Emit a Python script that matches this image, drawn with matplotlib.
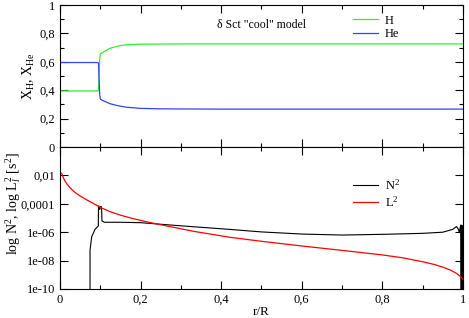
import numpy as np
import matplotlib
matplotlib.use("Agg")
import matplotlib.pyplot as plt
from matplotlib.ticker import MultipleLocator, FixedLocator, FixedFormatter, FuncFormatter

plt.rcParams['font.family'] = 'Liberation Serif'
plt.rcParams['mathtext.fontset'] = 'custom'
plt.rcParams['mathtext.rm'] = 'Liberation Serif'
plt.rcParams['mathtext.it'] = 'Liberation Serif:italic'

# abundance profiles
r_xh = [0.0, 0.094, 0.0955, 0.097, 0.0985, 0.100, 0.104, 0.124, 0.145, 0.165, 0.2, 0.25, 0.3, 0.4, 0.6, 0.8, 1.0]
x_h = [0.395, 0.395, 0.40, 0.52, 0.62, 0.655, 0.664, 0.695, 0.712, 0.72, 0.724, 0.725, 0.726, 0.726, 0.726, 0.726, 0.726]
x_he = [0.595, 0.595, 0.59, 0.47, 0.37, 0.338, 0.33, 0.305, 0.29, 0.28, 0.272, 0.269, 0.268, 0.267, 0.267, 0.267, 0.267]

# log10 of N^2
r_n2 = [0.0744, 0.0745, 0.0786, 0.0868, 0.095, 0.0955, 0.0962, 0.0985, 0.1005, 0.1025, 0.1035, 0.104, 0.11,
        0.15, 0.2, 0.3, 0.42, 0.5, 0.6, 0.7, 0.8, 0.9, 0.95, 0.975, 0.984, 0.988, 0.991, 0.9945,
        0.995, 0.9968, 0.9972, 0.9988, 0.9993, 1.0]
log_n2 = [-12, -7.25, -6.32, -5.8, -5.56, -4.15, -4.15, -4.4, -4.2, -4.2, -4.6, -5.2, -5.3,
          -5.3, -5.33, -5.55, -5.8, -5.98, -6.13, -6.2, -6.15, -6.08, -6.0, -5.8, -5.6, -5.75, -6.0, -5.5,
          -12, -12, -5.5, -5.6, -12, -12]

# log10 of L_l^2
r_l2 = [0.004, 0.008, 0.012, 0.0166, 0.025, 0.033, 0.041, 0.05, 0.06, 0.07, 0.083, 0.1, 0.124, 0.15, 0.182,
        0.22, 0.265, 0.33, 0.422, 0.5, 0.6, 0.7, 0.8, 0.85, 0.9, 0.93, 0.951, 0.97, 0.984, 0.993, 1.0]
log_l2 = [-1.85, -2.15, -2.38, -2.58, -2.87, -3.1, -3.28, -3.45, -3.62, -3.78, -3.98, -4.25, -4.55, -4.8, -5.05,
          -5.3, -5.56, -5.93, -6.36, -6.64, -6.97, -7.28, -7.6, -7.8, -8.08, -8.28, -8.47, -8.68, -8.9, -9.1, -9.32]

log_ticks = [1e-10, 1e-8, 1e-6, 1e-4, 1e-2]
log_labels = ['1e-10', '1e-08', '1e-06', '0,0001', '0,01']

fig = plt.figure(figsize=(4.69, 3.18), dpi=100)
ax1 = fig.add_axes([0.128, 0.5377, 0.859, 0.4465])
ax2 = fig.add_axes([0.128, 0.0912, 0.859, 0.4465])

comma = FuncFormatter(lambda v, p: ('%g' % v).replace('.', ','))

ax1.plot(r_xh, x_h, color='#33ee33', lw=0.9, label='H')
ax1.plot(r_xh, x_he, color='#3344ee', lw=0.9, label='He')
ax1.set_xlim(0, 1)
ax1.set_ylim(0, 1)
ax1.yaxis.set_major_locator(MultipleLocator(0.2))
ax1.yaxis.set_minor_locator(MultipleLocator(0.1))
ax1.xaxis.set_major_locator(MultipleLocator(0.2))
ax1.xaxis.set_minor_locator(MultipleLocator(0.1))
ax1.yaxis.set_major_formatter(comma)
ax1.tick_params(labelbottom=False)
ax1.set_ylabel(r'X$_{\rm H}$, X$_{\rm He}$', fontsize=10)
ax1.yaxis.set_label_coords(-0.058, 0.5)
ax1.text(0.39, 0.86, 'δ Sct "cool" model', transform=ax1.transAxes, fontsize=8.5, va='center')
ax1.legend(loc='upper left', bbox_to_anchor=(0.70, 1.01), frameon=False, fontsize=9,
           handlelength=2.0, handletextpad=0.5, labelspacing=0.1)

ax2.plot(r_n2, 10.0 ** np.array(log_n2), color='black', lw=0.8, label='N$^2$')
ax2.plot(r_l2, 10.0 ** np.array(log_l2), color='red', lw=0.9, label='L$^2$')
ax2.set_yscale('log')
ax2.set_xlim(0, 1)
ax2.set_ylim(1e-10, 1)
ax2.yaxis.set_major_locator(FixedLocator(log_ticks))
ax2.yaxis.set_major_formatter(FixedFormatter(log_labels))
ax2.yaxis.set_minor_locator(FixedLocator([]))
ax2.xaxis.set_major_locator(MultipleLocator(0.2))
ax2.xaxis.set_minor_locator(MultipleLocator(0.1))
ax2.xaxis.set_major_formatter(comma)
ax2.set_xlabel('r/R', fontsize=9.5, labelpad=0)
ax2.set_ylabel(r'log N$^2$, log L$_l^2$ [s$^2$]', fontsize=10)
ax2.yaxis.set_label_coords(-0.092, 0.6)
ax2.legend(loc='upper left', bbox_to_anchor=(0.70, 0.86), frameon=False, fontsize=9,
           handlelength=2.0, handletextpad=0.5, labelspacing=0.15)

for ax in (ax1, ax2):
    ax.tick_params(which='both', direction='in', top=True, right=True, labelsize=9, width=0.8)
    ax.tick_params(which='major', length=6)
    ax.tick_params(which='minor', length=3)
    for s in ax.spines.values():
        s.set_linewidth(0.8)

fig.savefig('out.png', dpi=100)
